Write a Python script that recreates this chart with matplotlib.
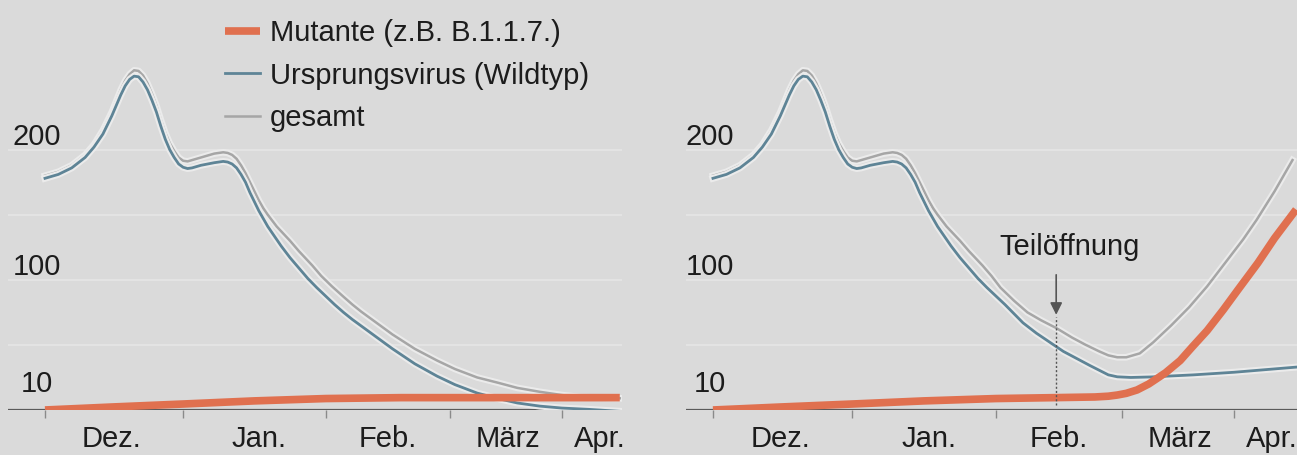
import matplotlib
matplotlib.use("Agg")
import matplotlib.pyplot as plt
import matplotlib.patheffects as pe
from matplotlib.lines import Line2D

plt.rcParams['font.family'] = ['Liberation Sans', 'DejaVu Sans']

# x = days from 1 Dec, y = values
month_ticks = [0, 31, 63, 91, 116]
month_label_pos = [15, 48, 77, 104, 124.5]
month_labels = ["Dez.", "Jan.", "Feb.", "März", "Apr."]
y_labels = [10, 100, 200]
grid_vals = [50, 100, 150, 200]

# left panel: lockdown continues
wild_l_x = [0, 3, 6, 9, 11, 13, 15, 17, 18, 19, 20, 21, 22, 23, 24, 25, 26, 27, 28, 29, 30, 31, 32, 33,
            35, 38, 40, 41, 42, 43, 44, 45, 46, 47, 48, 49, 50, 51, 53, 55, 57, 59, 61, 63, 65, 67, 69,
            72, 75, 78, 83, 88, 92, 97, 102, 106, 111, 116, 122, 129]
wild_l_y = [178, 181, 186, 194, 202, 212, 226, 242, 249, 254, 256.5, 256, 252, 246, 238, 229, 218, 208, 200, 194, 189, 186.5, 185.5, 186,
            188, 190, 191, 190.5, 189, 186, 181, 175, 167, 160, 153, 147, 141, 136, 126, 117, 109, 101, 94, 87.5, 81, 75, 69.5,
            62, 54.5, 47, 35.5, 26, 19.5, 13, 8.5, 5.4, 3, 1.5, 0.5, -1]
total_l_x = [0, 3, 6, 9, 11, 13, 15, 17, 18, 19, 20, 21, 22, 23, 24, 25, 26, 27, 28, 29, 30, 31, 32, 33,
             35, 38, 40, 41, 42, 43, 44, 45, 46, 47, 48, 49, 50, 52, 55, 57, 60, 62, 64.4, 67, 69, 71, 73.6,
             78, 83, 88, 92, 97, 101.6, 106, 111, 116, 120, 129]
total_l_y = [180, 183, 188, 196, 204, 215, 229, 246, 253, 258, 261, 260.5, 257, 251, 243, 234, 223, 213, 205, 199, 194, 191.5, 191, 192,
             194, 197, 198, 197.5, 196, 193, 188, 182, 175, 168, 161, 155, 150, 141, 130, 122, 111, 103, 95, 87, 81, 75.5, 69,
             58, 47, 38, 31.5, 25, 21, 17, 14, 11.5, 10, 9]
mut_l_x = [0, 15, 31, 47, 63, 80, 100, 129]
mut_l_y = [0, 2.3, 4.6, 7, 8.8, 9.5, 9.5, 9.5]

# right panel: partial reopening
wild_r_x = [0, 3, 6, 9, 11, 13, 15, 17, 18, 19, 20, 21, 22, 23, 24, 25, 26, 27, 28, 29, 30, 31, 32, 33,
            35, 38, 40, 41, 42, 43, 44, 45, 46, 47, 48, 49, 50, 51, 53, 55, 57, 59, 61, 63, 65, 67, 69,
            72, 75, 78, 81, 84, 86, 88, 90, 93, 97.5, 107, 116, 130]
wild_r_y = [178, 181, 186, 194, 202, 212, 226, 242, 249, 254, 256.5, 256, 252, 246, 238, 229, 218, 208, 200, 194, 189, 186.5, 185.5, 186,
            188, 190, 191, 190.5, 189, 186, 181, 175, 167, 160, 153, 147, 141, 136, 126, 117, 109, 101, 94, 87.5, 81, 74, 67,
            59, 52, 45, 39.5, 34, 30.5, 27, 25.5, 25, 25.4, 27, 29, 33]
total_r_x = [0, 3, 6, 9, 11, 13, 15, 17, 18, 19, 20, 21, 22, 23, 24, 25, 26, 27, 28, 29, 30, 31, 32, 33,
             35, 38, 40, 41, 42, 43, 44, 45, 46, 47, 48, 49, 50, 52, 55, 57, 60, 62, 64, 67, 70, 73, 76.4,
             80, 83, 86, 88, 90, 92, 95, 98, 102, 106, 110, 114, 118, 121, 125, 129]
total_r_y = [180, 183, 188, 196, 204, 215, 229, 246, 253, 258, 261, 260.5, 257, 251, 243, 234, 223, 213, 205, 199, 194, 191.5, 191, 192,
             194, 197, 198, 197.5, 196, 193, 188, 182, 175, 168, 161, 155, 150, 141, 130, 122, 111, 103, 94, 84, 75, 69, 63,
             55.5, 50, 45, 42, 40.5, 40.5, 43.5, 52, 65, 79, 95, 113, 131, 146, 168, 192]
mut_r_x = [0, 15, 31, 47, 63, 76, 85, 88, 90, 92, 94.4, 97, 100.7, 104, 106.7, 110, 113.6, 117, 121.3, 125, 129.8]
mut_r_y = [0, 2.3, 4.6, 7, 8.8, 9.5, 10, 10.6, 11.5, 12.8, 15.4, 20, 28.5, 38, 48.5, 61, 77, 93, 113, 132, 154]

reopen_day = 76.4

bg = '#dadada'
c_mut = '#e0704f'
c_wild = '#5e8496'
c_total = '#a6a6a6'
c_text = '#1c1c1c'
fs = 21

W, H = 1297, 455
fig = plt.figure(figsize=(W / 100, H / 100), dpi=100, facecolor=bg)

ax_l = fig.add_axes([8 / W, 45 / H, 614 / W, 410 / H])
ax_r = fig.add_axes([686 / W, 45 / H, 611 / W, 410 / H])

halo = lambda lw: [pe.Stroke(linewidth=lw + 3, foreground='#ebebeb'), pe.Normal()]

panels = [
    (ax_l, (-8.3, 129.5), wild_l_x, wild_l_y, total_l_x, total_l_y, mut_l_x, mut_l_y, -1.8),
    (ax_r, (-6, 130), wild_r_x, wild_r_y, total_r_x, total_r_y, mut_r_x, mut_r_y, -0.7),
]

for ax, xlim, wx, wy, tx, ty, mx, my, lab_x in panels:
    ax.set_facecolor(bg)
    ax.set_xlim(*xlim)
    ax.set_ylim(0, 315)
    for s in ax.spines.values():
        s.set_visible(False)
    for g in grid_vals:
        ax.axhline(g, color='#e4e4e4', lw=1.3, zorder=0)
    ax.axhline(0, color='#5a5a5a', lw=1.6, zorder=1)

    ax.plot(tx, ty, color=c_total, lw=1.8, zorder=2, solid_joinstyle='round', path_effects=halo(1.8))
    ax.plot(wx, wy, color=c_wild, lw=2.0, zorder=3, solid_joinstyle='round', path_effects=halo(2.0))
    ax.plot(mx, my, color=c_mut, lw=5.5, zorder=4, solid_capstyle='butt', solid_joinstyle='round')

    ax.set_yticks([])
    for v in y_labels:
        ax.text(lab_x, v + 3.5, str(v), ha='center', va='baseline', fontsize=fs, color=c_text)

    ax.set_xticks(month_ticks)
    ax.set_xticklabels([])
    ax.tick_params(axis='x', which='major', length=6, width=1, color='#8a8a8a', direction='out', pad=0)
    ax.set_xticks(month_label_pos, minor=True)
    ax.set_xticklabels(month_labels, minor=True)
    ax.tick_params(axis='x', which='minor', length=0, pad=11, labelsize=fs, labelcolor=c_text)

# partial reopening marker
ax_r.plot([reopen_day, reopen_day], [4, 71.5], color='#555555', lw=1, ls=(0, (1.5, 1.5)), zorder=5)
ax_r.annotate('', xy=(reopen_day, 71), xytext=(reopen_day, 106),
              arrowprops=dict(arrowstyle='-|>', color='#555555', lw=1.2, mutation_scale=18))
ax_r.text(79.3, 125, 'Teilöffnung', ha='center', va='center', fontsize=fs, color=c_text)

handles = [
    Line2D([], [], color=c_mut, lw=5.5, solid_capstyle='butt'),
    Line2D([], [], color=c_wild, lw=2.0),
    Line2D([], [], color=c_total, lw=1.8),
]
labels = ["Mutante (z.B. B.1.1.7.)", "Ursprungsvirus (Wildtyp)", "gesamt"]
fig.legend(handles, labels, loc='upper left', bbox_to_anchor=(225 / W, 1 - 19 / H),
           frameon=False, fontsize=fs, handlelength=1.2, handletextpad=0.35,
           labelspacing=0.5, borderpad=0, borderaxespad=0, labelcolor=c_text)

fig.savefig('out.png', dpi=100, facecolor=bg)
